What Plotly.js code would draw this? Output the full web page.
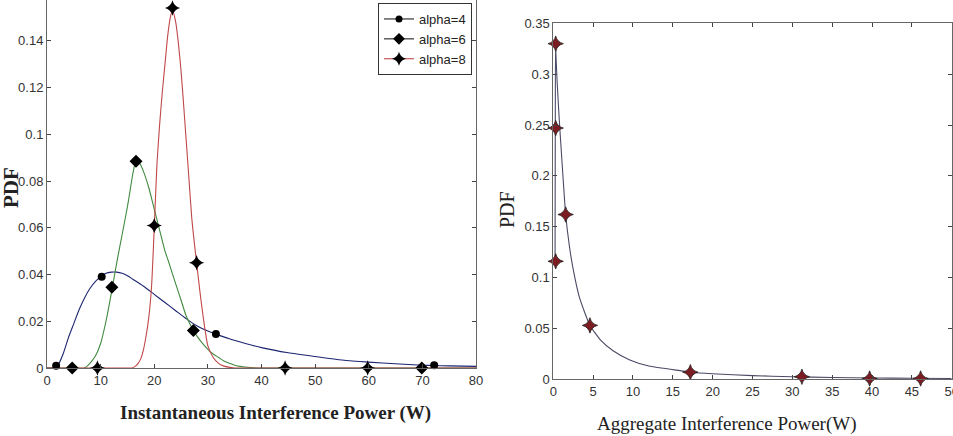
<!DOCTYPE html>
<html>
<head>
<meta charset="utf-8">
<script src="https://cdn.plot.ly/plotly-3.0.1.min.js"></script>
<style>
  html, body { margin: 0; padding: 0; background: #fff; overflow: hidden; width: 953px; height: 436px; }
  #chart { position: absolute; left: 0; top: -6px; width: 953px; height: 442px; }
</style>
</head>
<body>
<div id="chart"></div>
<script>
// ---------- Left chart: instantaneous interference power ----------
const seriesNames = ["alpha=4", "alpha=6", "alpha=8"];

const a4X = [0, 1, 1.5, 2, 3, 4, 5, 6, 7, 8, 9, 10, 11, 12, 13, 14, 15, 16, 18, 20, 22, 24, 26, 28, 30, 31.5, 34, 37, 40, 45, 50, 55, 60, 65, 70, 72, 75, 80];
const a4Y = [0, 0, 0, 0.001, 0.006, 0.013, 0.019, 0.025, 0.03, 0.034, 0.037, 0.039, 0.0405, 0.041, 0.041, 0.0405, 0.0395, 0.038, 0.035, 0.0315, 0.028, 0.0245, 0.021, 0.018, 0.0158, 0.0145, 0.0125, 0.0105, 0.0087, 0.0065, 0.0049, 0.0034, 0.0025, 0.0018, 0.0012, 0.0011, 0.0009, 0.0007];

const a6X = [0, 5, 7, 8, 9, 10, 11, 12, 13, 14, 15, 15.5, 16, 16.6, 17.3, 18, 19, 20, 21, 22, 22.6, 24, 25, 26, 27.3, 28, 29, 30, 31, 32, 33, 34, 35, 36, 38, 40, 50, 60, 70, 80];
const a6Y = [0, 0, 0, 0.002, 0.005, 0.0105, 0.02, 0.032, 0.045, 0.057, 0.069, 0.076, 0.083, 0.0885, 0.0875, 0.084, 0.077, 0.068, 0.059, 0.05, 0.046, 0.036, 0.029, 0.022, 0.016, 0.0135, 0.0105, 0.008, 0.006, 0.0045, 0.003, 0.002, 0.0012, 0.0007, 0.0002, 0, 0, 0, 0, 0];

const a8X = [0, 10, 15, 15.8, 16.5, 17, 17.5, 18, 18.5, 19, 19.5, 20, 20.5, 21, 21.5, 22, 22.5, 23, 23.4, 24, 24.5, 25, 25.5, 26, 26.5, 27, 27.5, 28, 28.5, 29, 29.5, 30, 31, 32, 33, 35, 40, 50, 60, 70, 80];
const a8Y = [0, 0, 0, 0, 0.0008, 0.002, 0.004, 0.008, 0.014, 0.022, 0.035, 0.06, 0.087, 0.104, 0.118, 0.13, 0.142, 0.15, 0.153, 0.148, 0.139, 0.127, 0.112, 0.096, 0.08, 0.064, 0.053, 0.043, 0.033, 0.024, 0.016, 0.0095, 0.0045, 0.002, 0.0008, 0, 0, 0, 0, 0, 0];

// marker points drawn on each curve
const a4MarkX = [1.7, 10.2, 31.5, 72.2];
const a4MarkY = [0.001, 0.039, 0.0145, 0.0012];
const a6MarkX = [4.7, 12.1, 16.6, 27.3, 69.9];
const a6MarkY = [0, 0.0345, 0.0885, 0.016, 0];
const a8MarkX = [9.4, 20.0, 23.4, 27.9, 44.4, 59.8];
const a8MarkY = [0, 0.061, 0.154, 0.045, 0, 0];

const leftXTicks = [0, 10, 20, 30, 40, 50, 60, 70, 80];
const leftYTicks = [0, 0.02, 0.04, 0.06, 0.08, 0.1, 0.12, 0.14, 0.16];

// ---------- Right chart: aggregate interference power ----------
const aggX = [0.22, 0.25, 0.28, 0.35, 0.5, 0.75, 1.0, 1.55, 2, 2.5, 3.3, 4.6, 6, 7.5, 9.6, 12, 15.9, 17.3, 20, 25, 30, 35, 40, 45, 50];
const aggY = [0.116, 0.247, 0.33, 0.315, 0.29, 0.255, 0.225, 0.162, 0.132, 0.108, 0.08, 0.053, 0.038, 0.028, 0.019, 0.013, 0.0085, 0.007, 0.0055, 0.0036, 0.0025, 0.0018, 0.0013, 0.001, 0.0008];
const aggMarkX = [0.3, 0.3, 0.3, 1.55, 4.6, 17.2, 31.2, 39.7, 46.1];
const aggMarkY = [0.116, 0.247, 0.33, 0.162, 0.053, 0.007, 0.0025, 0.0008, 0.0008];

const rightXTicks = [0, 5, 10, 15, 20, 25, 30, 35, 40, 45, 50];
const rightYTicks = [0, 0.05, 0.1, 0.15, 0.2, 0.25, 0.3, 0.35];

// ---------- styling ----------
const W = 953, H = 442, OFF = 6;
const fx = p => p / W;
const fy = pageY => 1 - (pageY + OFF) / H;

const colors = ["#1c2470", "#3f8a3f", "#c04848"];
const symbols = ["circle", "diamond", "star-diamond"];
const sizes = [8, 10, 11];
const lineSets = [[a4X, a4Y], [a6X, a6Y], [a8X, a8Y]];
const markSets = [[a4MarkX, a4MarkY], [a6MarkX, a6MarkY], [a8MarkX, a8MarkY]];

const traces = [];
for (let i = 0; i < 3; i++) {
  traces.push({
    x: lineSets[i][0], y: lineSets[i][1], xaxis: "x", yaxis: "y",
    mode: "lines", line: { color: colors[i], width: 1.1, shape: "spline", smoothing: 0.6 },
    showlegend: false, hoverinfo: "skip"
  });
}
for (let i = 0; i < 3; i++) {
  traces.push({
    x: markSets[i][0], y: markSets[i][1], xaxis: "x", yaxis: "y",
    mode: "markers", marker: { symbol: symbols[i], size: sizes[i], color: "#000", line: { color: "#000", width: 0 } },
    showlegend: false, cliponaxis: false, hoverinfo: "skip"
  });
}
for (let i = 0; i < 3; i++) {
  traces.push({
    x: [null], y: [null], xaxis: "x", yaxis: "y", name: seriesNames[i],
    mode: "lines+markers", line: { color: i === 2 ? colors[2] : "#222", width: 1.1 },
    marker: { symbol: symbols[i], size: sizes[i] - 1, color: "#000" }
  });
}
traces.push({
  x: aggX, y: aggY, xaxis: "x2", yaxis: "y2", mode: "lines",
  line: { color: "#4a4a66", width: 1.1, shape: "spline", smoothing: 0.5 },
  showlegend: false, hoverinfo: "skip"
});
traces.push({
  x: aggMarkX, y: aggMarkY, xaxis: "x2", yaxis: "y2", mode: "markers",
  marker: { symbol: "star-diamond", size: 11, color: "#7a1c22", line: { color: "#222", width: 0.8 } },
  showlegend: false, cliponaxis: false, hoverinfo: "skip"
});

const tickFont = { family: "Liberation Sans, Arial, sans-serif", size: 13, color: "#333" };
const axisBase = {
  showline: true, linecolor: "#666", linewidth: 1, mirror: "ticks",
  ticks: "inside", ticklen: 4, tickcolor: "#444", tickwidth: 1,
  showgrid: false, zeroline: false, tickfont: tickFont, fixedrange: true,
  ticklabeloverflow: "allow"
};

const layout = {
  width: W, height: H,
  margin: { l: 0, r: 0, t: 0, b: 0 },
  paper_bgcolor: "#fff", plot_bgcolor: "#fff",
  showlegend: true,
  legend: {
    x: fx(472), xanchor: "right", y: fy(3), yanchor: "top",
    bgcolor: "#fff", bordercolor: "#333", borderwidth: 1,
    font: { family: "Liberation Sans, Arial, sans-serif", size: 13, color: "#222" },
    tracegroupgap: 0
  },
  xaxis: Object.assign({}, axisBase, {
    domain: [fx(47), fx(476)], range: [0, 80], tickvals: leftXTicks, anchor: "y"
  }),
  yaxis: Object.assign({}, axisBase, {
    domain: [fy(368), fy(-6)], range: [0, 0.16], tickvals: leftYTicks, anchor: "x"
  }),
  xaxis2: Object.assign({}, axisBase, {
    domain: [fx(553.3), fx(951.7)], range: [0, 50], tickvals: rightXTicks, anchor: "y2"
  }),
  yaxis2: Object.assign({}, axisBase, {
    domain: [fy(379.3), fy(23.3)], range: [0, 0.35], tickvals: rightYTicks, anchor: "x2"
  }),
  annotations: [
    { text: "<b>Instantaneous Interference Power (W)</b>", xref: "paper", yref: "paper",
      x: fx(275), y: fy(413), xanchor: "center", yanchor: "middle", showarrow: false,
      font: { family: "Liberation Serif, Times New Roman, serif", size: 19, color: "#222" } },
    { text: "<b>PDF</b>", xref: "paper", yref: "paper", textangle: -90,
      x: fx(11), y: fy(188), xanchor: "center", yanchor: "middle", showarrow: false,
      font: { family: "Liberation Serif, Times New Roman, serif", size: 21, color: "#222" } },
    { text: "Aggregate Interference Power(W)", xref: "paper", yref: "paper",
      x: fx(727), y: fy(424), xanchor: "center", yanchor: "middle", showarrow: false,
      font: { family: "Liberation Serif, Times New Roman, serif", size: 19, color: "#222" } },
    { text: "PDF", xref: "paper", yref: "paper", textangle: -90,
      x: fx(507), y: fy(210), xanchor: "center", yanchor: "middle", showarrow: false,
      font: { family: "Liberation Serif, Times New Roman, serif", size: 20, color: "#222" } }
  ]
};

Plotly.newPlot("chart", traces, layout, { staticPlot: true, displayModeBar: false });
</script>
</body>
</html>
